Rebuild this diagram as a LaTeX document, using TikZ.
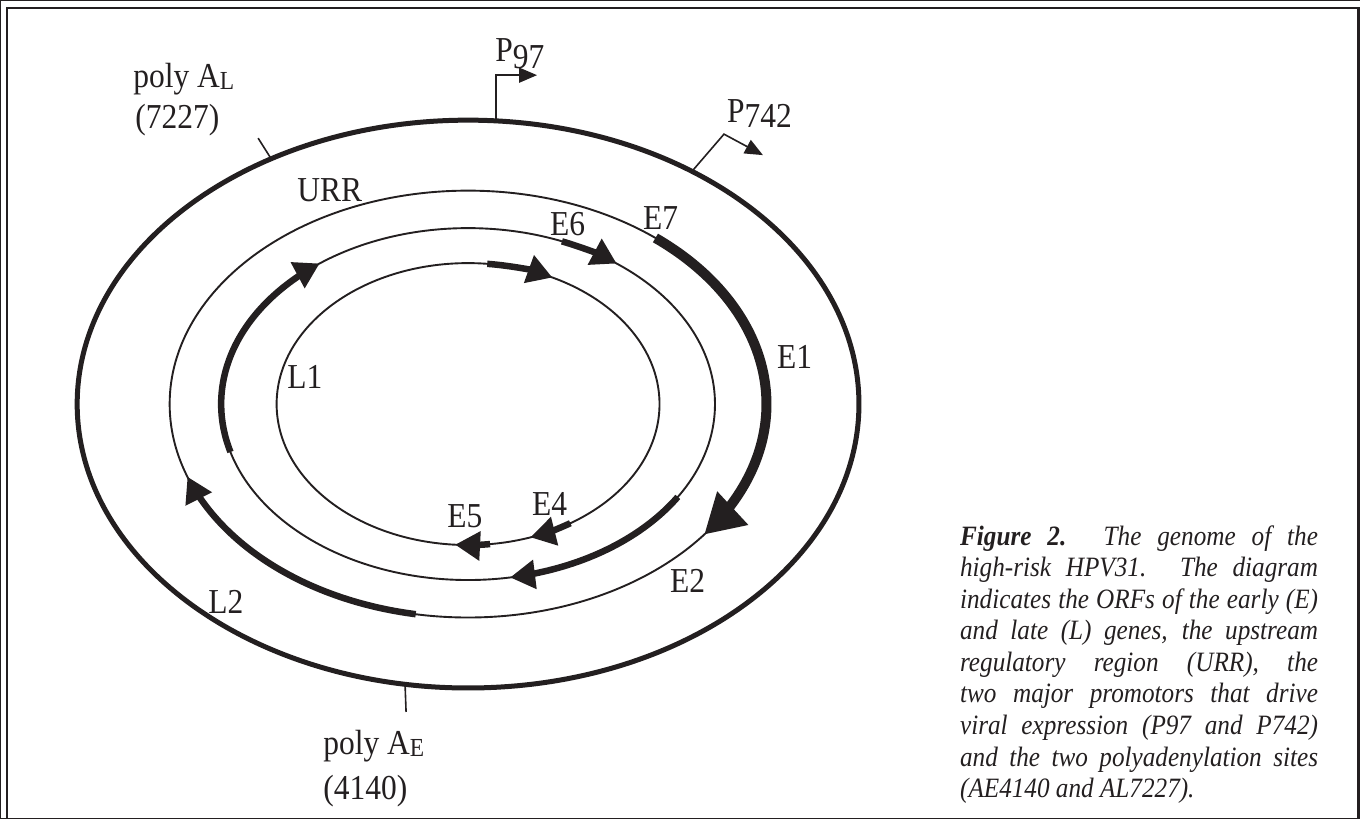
\documentclass[tikz,border=0pt]{standalone}
\usepackage{fontspec}
\setmainfont{Liberation Serif}[FakeStretch=0.9]
\usetikzlibrary{arrows.meta,calc}
\definecolor{ink}{RGB}{35,31,32}
\begin{document}
\begin{tikzpicture}[x=1pt,y=1pt,
  every path/.style={draw=ink},
  frameline/.style={line width=2.5pt},
  outerring/.style={line width=5pt},
  ring/.style={line width=1.9pt},
  gene/.style={line width=6.5pt,-{Triangle[length=25pt,width=28pt]}},
  biggene/.style={line width=10pt,-{Triangle[length=39pt,width=43pt]}},
  prom/.style={line width=1.6pt,-{Triangle[length=18pt,width=15pt]}},
  sitetick/.style={line width=1.6pt},
  lbl/.style={anchor=base west,inner sep=0pt,text=ink,font=\fontsize{35}{40}\selectfont},
  capt/.style={anchor=base west,inner sep=0pt,text=ink}
]
\useasboundingbox (0,0) rectangle (1360,818);
% frame
\draw[frameline] (7,0) -- (7,810) -- (1358.5,810) -- (1358.5,0);

\coordinate (c) at (468,414);
% rings
\draw[outerring] (c) ellipse [x radius=391pt, y radius=284pt];
\draw[ring] (c) ellipse [x radius=298.5pt, y radius=213.5pt];
\draw[ring] (c) ellipse [x radius=247pt, y radius=176pt];
\draw[ring] (c) ellipse [x radius=191.5pt, y radius=141pt];

% ORFs on ring 2
\draw[biggene] ($(c)+(51.1:298.5 and 213.5)$)
  arc[start angle=51.1, end angle=-26.7, x radius=298.5, y radius=213.5]
  arc[start angle=-26.7, end angle=-37.7, x radius=298.5, y radius=213.5];
\draw[gene] ($(c)+(-100.1:298.5 and 213.5)$)
  arc[start angle=-100.1, end angle=-151.7, x radius=298.5, y radius=213.5]
  arc[start angle=-151.7, end angle=-160.1, x radius=298.5, y radius=213.5];
% ORFs on ring 3
\draw[gene] ($(c)+(67.65:247 and 176)$) arc[start angle=67.65, end angle=53.0, x radius=247, y radius=176];
\draw[gene] ($(c)+(-31.85:247 and 176)$)
  arc[start angle=-31.85, end angle=-72.5, x radius=247, y radius=176]
  arc[start angle=-72.5, end angle=-80.2, x radius=247, y radius=176];
\draw[gene] ($(c)+(-164.2:247 and 176)$)
  arc[start angle=-164.2, end angle=-224.65, x radius=247, y radius=176]
  arc[start angle=-224.65, end angle=-233.05, x radius=247, y radius=176];
% ORFs on ring 4
\draw[gene] ($(c)+(84.25:191.5 and 141)$) arc[start angle=84.25, end angle=63.85, x radius=191.5, y radius=141];
\draw[gene] ($(c)+(-57.7:191.5 and 141)$) arc[start angle=-57.7, end angle=-71.0, x radius=191.5, y radius=141];
\draw[gene] ($(c)+(-83.4:191.5 and 141)$) arc[start angle=-83.4, end angle=-93.9, x radius=191.5, y radius=141];

% promoters
\coordinate (p97b) at (496,698);
\coordinate (p97k) at (496,743);
\coordinate (p97t) at (537,743);
\draw[prom] (p97b) -- (p97k) -- (p97t);
\coordinate (p742b) at (693,648);
\coordinate (p742k) at (724,684);
\coordinate (p742t) at (763,663);
\draw[prom] (p742b) -- (p742k) -- (p742t);

% polyadenylation sites
\coordinate (alb) at (270,661);
\coordinate (alt) at (258,680);
\draw[sitetick] (alb) -- (alt);
\coordinate (aeb) at (405,133);
\coordinate (aet) at (406,106);
\draw[sitetick] (aeb) -- (aet);

% labels
\node[lbl] (polyAL) at (133,731) {poly A{\fontsize{26}{26}\selectfont\raisebox{-2pt}{L}}};
\node[lbl] (n7227) at (135,690) {(7227)};
\node[lbl] (lP97) at (495,757) {P\raisebox{-7pt}{97}};
\node[lbl] (lP742) at (727,696) {P\raisebox{-5pt}{742}};
\node[lbl] (lURR) at (297,617) {URR};
\node[lbl] (lE6) at (550,583) {E6};
\node[lbl] (lE7) at (643,589) {E7};
\node[lbl] (lE1) at (777,450) {E1};
\node[lbl] (lE2) at (670,226) {E2};
\node[lbl] (lE4) at (532,303) {E4};
\node[lbl] (lE5) at (447,291) {E5};
\node[lbl] (lL1) at (287,430) {L1};
\node[lbl] (lL2) at (208,205) {L2};
\node[lbl] (polyAE) at (323,63) {poly A{\fontsize{26}{26}\selectfont\raisebox{-2pt}{E}}};
\node[lbl] (n4140) at (323,18) {(4140)};

% caption
\node[capt] (caption) at (960,273) {\parbox[t]{358pt}{\fontsize{28}{31.6}\selectfont\itshape
\makebox[358pt][s]{\textbf{Figure 2.} The genome of the}\\
\makebox[358pt][s]{high-risk HPV31. The diagram}\\
\makebox[358pt][s]{indicates the ORFs of the early (E)}\\
\makebox[358pt][s]{and late (L) genes, the upstream}\\
\makebox[358pt][s]{regulatory region (URR), the}\\
\makebox[358pt][s]{two major promotors that drive}\\
\makebox[358pt][s]{viral expression (P97 and P742)}\\
\makebox[358pt][s]{and the two polyadenylation sites}\\
(AE4140 and AL7227).}};
\end{tikzpicture}
\end{document}
